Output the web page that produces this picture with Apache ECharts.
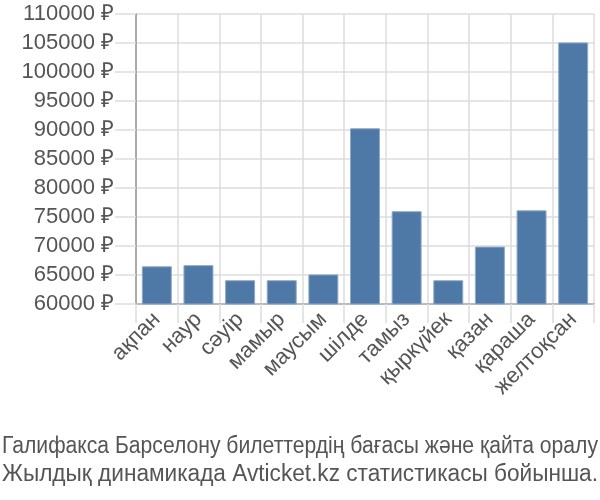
<!DOCTYPE html>
<html><head><meta charset="utf-8">
<script src="https://cdn.jsdelivr.net/npm/echarts@6/dist/echarts.min.js"></script>
<style>html,body{margin:0;padding:0;background:#fff}#c{width:600px;height:500px}</style>
</head><body><div id="c"></div>
<script>
const categories = ["ақпан","наур","сәуір","мамыр","маусым","шілде","тамыз","қыркүйек","қазан","қараша","желтоқсан"];
const prices = [66500, 66700, 64100, 64100, 65100, 90300, 76000, 64100, 69900, 76150, 105100];
const titleLines = ["Галифакса Барселону билеттердің бағасы және қайта оралу","Жылдық динамикада Avticket.kz статистикасы бойынша."];
const yMin = 60000, yMax = 110000, yStep = 5000;

const font = "Liberation Sans";
const titleFont = "23px 'Liberation Sans'";
const ctx = document.createElement('canvas').getContext('2d');
ctx.font = titleFont;
const targetWidth = 596;
const titleGraphics = titleLines.map((t, i) => {
  const w = ctx.measureText(t).width || targetWidth;
  return {
    type:'text', x:300, y:447 + i*28, scaleX: targetWidth / w, scaleY: 1,
    style:{text:t, font:titleFont, fill:'#555', textAlign:'center', textVerticalAlign:'middle'}
  };
});

const chart = echarts.init(document.getElementById('c'), null, {renderer:'canvas'});
chart.setOption({
  animation:false,
  textStyle:{fontFamily:font},
  graphic: titleGraphics,
  grid:{left:136, right:6, top:14, bottom:196, containLabel:false},
  xAxis:{
    type:'category', data:categories,
    axisLine:{show:true, lineStyle:{color:'#bbb', width:2}},
    axisTick:{show:true, alignWithLabel:false, length:19, lineStyle:{color:'#ddd', width:1.5}},
    splitLine:{show:true, lineStyle:{color:'#ddd', width:1.5}},
    axisLabel:{rotate:45, fontSize:22, color:'#555', margin:12, interval:0, fontFamily:font}
  },
  yAxis:{
    type:'value', min:yMin, max:yMax, interval:yStep,
    axisLine:{show:true, lineStyle:{color:'#aaa', width:2}},
    axisTick:{show:true, length:21, lineStyle:{color:'#ddd', width:1.5}},
    splitLine:{show:true, lineStyle:{color:'#ddd', width:1.5}},
    axisLabel:{fontSize:22, color:'#555', margin:22, formatter: v => v + " ₽", fontFamily:font}
  },
  series:[{
    type:'bar', data:prices, barCategoryGap:'28%',
    itemStyle:{color:'#4e79a7', borderColor:'#8fa9c8', borderWidth:1}
  }]
});
</script></body></html>
